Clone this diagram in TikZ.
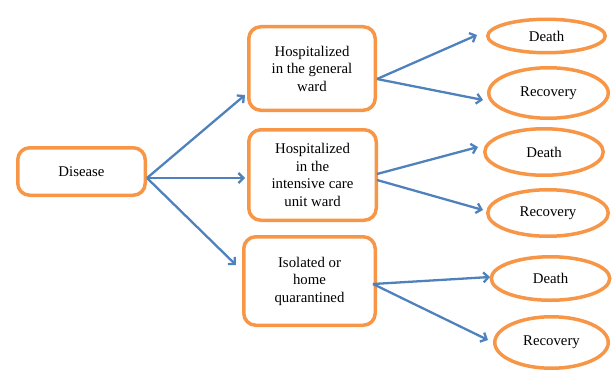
\documentclass[tikz,border=0pt]{standalone}
\usepackage{fontspec}
\setmainfont{Liberation Serif}
\usetikzlibrary{shapes.geometric,arrows.meta}
\definecolor{boxor}{HTML}{F79646}
\definecolor{arrbl}{HTML}{4F81BD}
\begin{document}
\begin{tikzpicture}[x=1pt,y=-1pt,
  rbox/.style={draw=boxor,line width=3.5pt,rounded corners=12pt,align=center,inner sep=0pt,
    font=\fontsize{14.8}{17.5}\selectfont},
  oval/.style={draw=boxor,line width=3.5pt,ellipse,inner sep=0pt,font=\fontsize{14.8}{17.5}\selectfont},
  arr/.style={draw=arrbl,line width=2.3pt,-{Straight Barb[length=5pt,width=10pt,line width=2.3pt]}}]
\useasboundingbox (0,0) rectangle (612,369);
\node[rbox,minimum width=127.5pt,minimum height=47.5pt] (dis) at (81.5,171.5) {Disease};
\node[rbox,minimum width=126.5pt,minimum height=83.5pt] (b1) at (312,68.5) {Hospitalized\\in the general\\ward};
\node[rbox,minimum width=127.5pt,minimum height=90.5pt] (b2) at (312.5,175) {Hospitalized\\in the\\intensive care\\unit ward};
\node[rbox,minimum width=131.5pt,minimum height=88.5pt] (b3) at (309.5,281) {Isolated or\\home\\quarantined};
\node[oval,minimum width=117.5pt,minimum height=33.5pt] (d1) at (546.5,36) {Death};
\node[oval,minimum width=119.5pt,minimum height=50.5pt] (r1) at (548.5,93) {Recovery};
\node[oval,minimum width=118.5pt,minimum height=46.5pt] (d2) at (544,152) {Death};
\node[oval,minimum width=120.5pt,minimum height=46.5pt] (r2) at (548,213) {Recovery};
\node[oval,minimum width=118.5pt,minimum height=43.5pt] (d3) at (550.5,278.5) {Death};
\node[oval,minimum width=113.5pt,minimum height=51.5pt] (r3) at (551.5,342.5) {Recovery};
% connector start and end points
\coordinate (s0) at (147,178);
\coordinate (e1) at (245,95);
\coordinate (e2) at (245,178);
\coordinate (e3) at (236,265);
\coordinate (s1) at (377,79);
\coordinate (s2a) at (377,174);
\coordinate (s2b) at (377,180);
\coordinate (s3) at (373,284);
\coordinate (ed1) at (477,35);
\coordinate (er1) at (483,100);
\coordinate (ed2) at (478,147);
\coordinate (er2) at (483,210);
\coordinate (ed3) at (490,277);
\coordinate (er3) at (488,340);
\draw[arr] (s0) -- (e1);
\draw[arr] (s0) -- (e2);
\draw[arr] (s0) -- (e3);
\draw[arr] (s1) -- (ed1);
\draw[arr] (s1) -- (er1);
\draw[arr] (s2a) -- (ed2);
\draw[arr] (s2b) -- (er2);
\draw[arr] (s3) -- (ed3);
\draw[arr] (s3) -- (er3);
\end{tikzpicture}
\end{document}
